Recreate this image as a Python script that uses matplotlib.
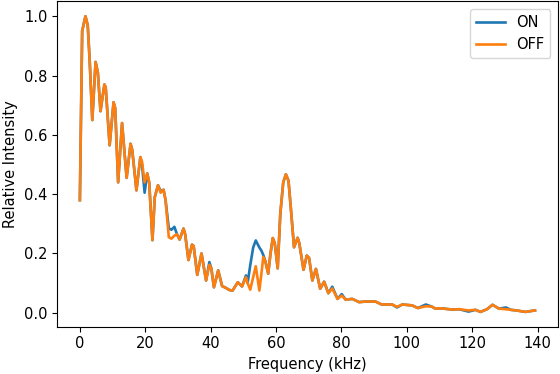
import numpy as np
import matplotlib
matplotlib.use("Agg")
import matplotlib.pyplot as plt

# frequency grid (kHz) and relative intensities
freq = [0.0, 0.7, 1.7, 2.4, 3.0, 3.8, 4.8, 5.5, 6.3, 7.5, 7.9, 9.1, 10.3, 10.8,
        11.7, 12.9, 14.3, 15.5, 16.0, 17.3, 18.5, 19.0, 19.8, 20.6, 21.2, 22.2,
        22.9, 23.9, 24.7, 25.6, 26.2, 27.2, 28.0, 28.9, 29.7, 30.5, 31.7, 32.2,
        33.2, 34.3, 34.8, 35.9, 37.2, 38.6, 39.6, 40.2, 41.0, 42.3, 43.5, 44.5,
        45.7, 46.7, 48.3, 49.6, 50.8, 51.3, 52.1, 53.0, 53.8, 54.9, 55.5, 56.1,
        56.7, 57.6, 58.3, 59.0, 59.6, 60.5, 61.3, 62.2, 63.0, 63.8, 64.5, 65.5,
        66.6, 67.1, 68.4, 69.4, 70.1, 71.1, 72.2, 73.5, 74.7, 76.0, 77.2, 78.8,
        80.1, 81.3, 83.3, 85.4, 87.4, 90.4, 92.3, 95.5, 97.0, 98.6, 101.6, 103.4,
        105.8, 107.6, 108.7, 110.5, 113.8, 116.0, 118.9, 121.0, 122.5, 124.5,
        126.2, 128.2, 130.3, 131.8, 133.5, 136.2, 139.2]

on = [0.38, 0.95, 1.00, 0.97, 0.85, 0.65, 0.846, 0.81, 0.68, 0.77, 0.76, 0.565, 0.71, 0.69,
      0.44, 0.64, 0.455, 0.57, 0.55, 0.413, 0.525, 0.50, 0.405, 0.47, 0.44, 0.245,
      0.39, 0.43, 0.41, 0.415, 0.38, 0.285, 0.28, 0.29, 0.265, 0.247, 0.284, 0.265,
      0.178, 0.23, 0.225, 0.128, 0.20, 0.109, 0.171, 0.15, 0.086, 0.143, 0.09, 0.085,
      0.077, 0.075, 0.103, 0.089, 0.126, 0.10, 0.16, 0.22, 0.244, 0.22, 0.21, 0.195,
      0.175, 0.132, 0.20, 0.252, 0.235, 0.15, 0.334, 0.44, 0.467, 0.446, 0.356, 0.221,
      0.253, 0.235, 0.145, 0.193, 0.185, 0.109, 0.148, 0.081, 0.105, 0.066, 0.088, 0.047,
      0.063, 0.044, 0.047, 0.036, 0.038, 0.038, 0.028, 0.028, 0.018, 0.028, 0.025, 0.016,
      0.028, 0.021, 0.014, 0.015, 0.011, 0.012, 0.004, 0.010, 0.003, 0.012,
      0.027, 0.014, 0.018, 0.010, 0.008, 0.003, 0.008]

off = [0.38, 0.95, 1.00, 0.97, 0.85, 0.65, 0.846, 0.81, 0.68, 0.77, 0.76, 0.565, 0.71, 0.69,
       0.44, 0.64, 0.455, 0.57, 0.55, 0.413, 0.525, 0.51, 0.44, 0.47, 0.44, 0.245,
       0.39, 0.43, 0.405, 0.415, 0.38, 0.255, 0.25, 0.26, 0.265, 0.247, 0.284, 0.265,
       0.178, 0.23, 0.225, 0.128, 0.20, 0.109, 0.162, 0.15, 0.086, 0.143, 0.09, 0.085,
       0.077, 0.075, 0.103, 0.089, 0.12, 0.10, 0.078, 0.12, 0.157, 0.075, 0.13, 0.188,
       0.175, 0.132, 0.20, 0.252, 0.235, 0.15, 0.334, 0.44, 0.467, 0.446, 0.356, 0.221,
       0.253, 0.235, 0.145, 0.193, 0.185, 0.109, 0.148, 0.081, 0.105, 0.066, 0.082, 0.047,
       0.058, 0.044, 0.047, 0.036, 0.038, 0.038, 0.028, 0.028, 0.020, 0.028, 0.025, 0.016,
       0.022, 0.021, 0.014, 0.015, 0.011, 0.012, 0.008, 0.010, 0.003, 0.012,
       0.027, 0.014, 0.012, 0.010, 0.008, 0.003, 0.008]

fig = plt.figure(figsize=(5.6, 3.74), dpi=100)
ax = fig.add_axes([0.102, 0.1265, 0.894, 0.8695])

ax.plot(freq, on, color="#1f77b4", lw=1.9, label="ON")
ax.plot(freq, off, color="#ff7f0e", lw=1.9, label="OFF")

ax.set_xticks([0, 20, 40, 60, 80, 100, 120, 140])
ax.set_yticks([0.0, 0.2, 0.4, 0.6, 0.8, 1.0])
ax.set_xlabel("Frequency (kHz)", fontsize=10.5)
ax.set_ylabel("Relative Intensity", fontsize=10.5)
ax.tick_params(labelsize=10.5)
ax.legend(loc="upper right", fontsize=10.5)

fig.savefig("out.png", dpi=100)
